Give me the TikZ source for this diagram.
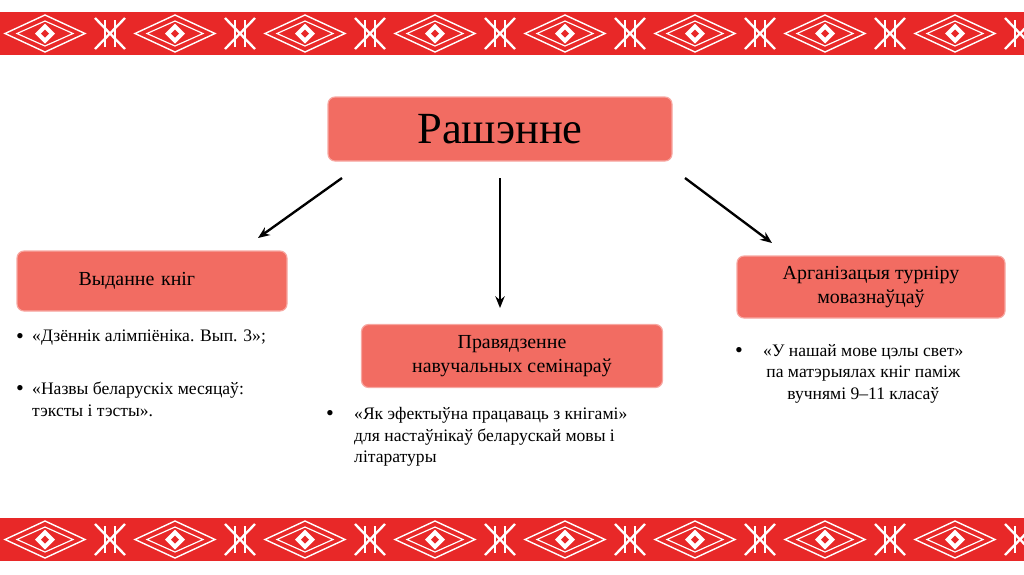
\documentclass[tikz,border=0pt]{standalone}
\usepackage{fontspec}
\setmainfont{Liberation Serif}
\usetikzlibrary{arrows.meta}
\definecolor{boxred}{RGB}{242,108,98}
\definecolor{ornred}{RGB}{232,40,40}
\tikzset{
  topic/.style={draw=boxred!60!white,line width=1pt,fill=boxred,rounded corners=6pt,
    align=center,font=\fontsize{17}{20}\selectfont},
  item/.style={anchor=north west,align=left,font=\fontsize{15}{18.5}\selectfont,inner sep=0pt},
  dot/.style={anchor=north west,font=\fontsize{19}{18.5}\selectfont,inner sep=0pt},
  arrow/.style={-{Stealth[length=10pt,width=8pt]},line width=2pt}
}
\newcommand{\ornband}[2]{%
  \fill[ornred] (0,#1) rectangle (1024,#2);
  \foreach \k in {0,...,8}{
    \pgfmathsetmacro{\cx}{\k*130+45}
    \pgfmathsetmacro{\cy}{(#1+#2)/2}
    \draw[white,line width=1.2pt] (\cx-40,\cy) -- (\cx,#1+3) -- (\cx+40,\cy) -- (\cx,#2-3) -- cycle;
    \draw[white,line width=1pt] (\cx-28,\cy) -- (\cx,#1+9) -- (\cx+28,\cy) -- (\cx,#2-9) -- cycle;
    \fill[white] (\cx-10,\cy) -- (\cx,\cy-10) -- (\cx+10,\cy) -- (\cx,\cy+10) -- cycle;
    \fill[ornred] (\cx-4,\cy) -- (\cx,\cy-4) -- (\cx+4,\cy) -- (\cx,\cy+4) -- cycle;
    \draw[white,line width=1.5pt] (\cx+60,#1+8) -- (\cx+60,#2-8) (\cx+70,#1+8) -- (\cx+70,#2-8);
    \draw[white,line width=2pt] (\cx+50,#1+6) -- (\cx+80,#2-6) (\cx+80,#1+6) -- (\cx+50,#2-6);
  }}
\begin{document}
\begin{tikzpicture}[x=0.03cm,y=-0.03cm]
  \useasboundingbox (0,0) rectangle (1024,574);
  \ornband{12}{55}
  \ornband{518}{561}

  \node[topic,minimum width=344*0.03cm,minimum height=64*0.03cm,
    font=\fontsize{38}{40}\selectfont] (title) at (500,129) {Рашэнне};
  \node[topic,minimum width=270*0.03cm,minimum height=60*0.03cm,text width=240*0.03cm,align=left] (books) at (152,281) {\hspace{1.4cm}Выданне кніг};
  \node[topic,minimum width=301*0.03cm,minimum height=63*0.03cm] (seminar) at (512,356) {Правядзенне\\навучальных семінараў};
  \node[topic,minimum width=268*0.03cm,minimum height=62*0.03cm] (contest) at (871,287) {Арганізацыя турніру\\мовазнаўцаў};

  \coordinate (l0) at (342,178); \coordinate (l1) at (258,238);
  \coordinate (m0) at (500,178); \coordinate (m1) at (500,308);
  \coordinate (r0) at (685,178); \coordinate (r1) at (772,243);
  \draw[arrow] (l0) -- (l1);
  \draw[arrow] (m0) -- (m1);
  \draw[arrow] (r0) -- (r1);

  \node[dot] (bl1) at (16,333) {•};
  \node[item] (tl1) at (32,330) {«Дзённік алімпіёніка. Вып. 3»;};
  \node[dot] (bl2) at (16,385) {•};
  \node[item] (tl2) at (32,382) {«Назвы беларускіх месяцаў:\\тэксты і тэсты».};
  \node[dot] (bm) at (326,410) {•};
  \node[item] (tm) at (354,407) {«Як эфектыўна працаваць з кнігамі»\\для настаўнікаў беларускай мовы і\\літаратуры};
  \node[dot] (br) at (735,347) {•};
  \node[item,align=center] (tr) at (763,344) {«У нашай мове цэлы свет»\\па матэрыялах кніг паміж\\вучнямі 9–11 класаў};
\end{tikzpicture}
\end{document}
